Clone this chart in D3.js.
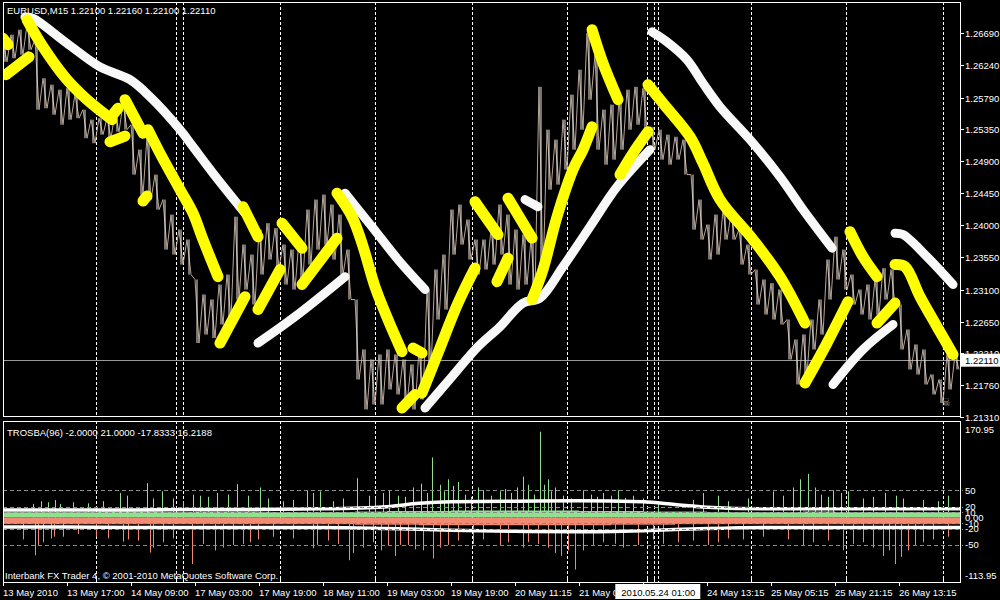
<!DOCTYPE html>
<html><head><meta charset="utf-8">
<script src="https://cdn.jsdelivr.net/npm/d3@7"></script>
<style>
html,body{margin:0;padding:0;background:#000;}
svg{display:block;}
text{font-family:"Liberation Sans",Arial,sans-serif;font-size:9.5px;fill:#fff;}
</style></head><body>
<svg id="c" width="1000" height="600"></svg>
<script>
// ---------- DATA ----------
const symbolTitle = "EURUSD,M15  1.22100 1.22160 1.22100 1.22110";
const indicatorTitle = "TROSBA(96) -2.0000 21.0000 -17.8333 16.2188";
const copyright = "Interbank FX Trader 4, \u00A9 2001-2010 MetaQuotes Software Corp.";
const priceTicks = [1.26690,1.26240,1.25790,1.25350,1.24900,1.24450,1.24000,1.23550,1.23100,1.22650,1.22210,1.21760,1.21310];
const lastPrice = 1.22110;
const oscTickValues = [170.95,50,20,10,0,-10,-20,-50,-113.95];
const oscTickLabels = ["170.95","50","20","10","0.00","-10","-20","-50","-113.95"];
const oscLevels = [50,20,10,-10,-20,-50];
const timeLabels = ["13 May 2010","13 May 17:00","14 May 09:00","17 May 03:00","17 May 19:00","18 May 11:00","19 May 03:00","19 May 19:00","20 May 11:15","21 May 03:15","21 May 19:15","24 May 13:15","25 May 05:15","25 May 21:15","26 May 13:15"];
const timeLabelBars = [0,64,128,192,256,320,384,448,512,576,640,704,768,832,896];
const separatorBars = [92.7,172.7,180.3,276.7,372.3,468.7,563.7,643.7,651.3,747.7,843.3,939.7];
const crosshairBar = 655.3;
const crosshairLabel = "2010.05.24 01:00";
// 2-hour samples (8 bars each) of the M15 price: highs and lows
const sampleHigh = [1.2657,1.2667,1.2674,1.2681,1.2660,1.2606,1.2597,1.2590,1.2592,1.2583,
1.2562,1.2548,1.2550,1.2550,1.2559,1.2571,1.2541,1.2506,1.2524,1.2471,
1.2436,1.2415,1.2394,1.2380,1.2324,1.2303,1.2296,1.2317,1.2331,1.2412,
1.2373,1.2359,1.2394,1.2403,1.2396,1.2373,1.2366,1.2380,1.2422,1.2436,
1.2443,1.2429,1.2415,1.2366,1.2296,1.2226,1.2212,1.2219,1.2226,1.2219,
1.2212,1.2205,1.2226,1.2310,1.2338,1.2359,1.2422,1.2429,1.2408,1.2380,
1.2380,1.2394,1.2429,1.2415,1.2394,1.2387,1.2380,1.2594,1.2534,1.2520,
1.2548,1.2583,1.2618,1.2669,1.2639,1.2562,1.2569,1.2576,1.2590,1.2594,
1.2592,1.2538,1.2534,1.2527,1.2524,1.2520,1.2471,1.2436,1.2401,1.2415,
1.2422,1.2415,1.2394,1.2373,1.2338,1.2324,1.2319,1.2310,1.2268,1.2240,
1.2247,1.2268,1.2296,1.2352,1.2384,1.2366,1.2331,1.2310,1.2317,1.2324,
1.2340,1.2338,1.2289,1.2254,1.2233,1.2226,1.2191,1.2184,1.2219,1.2219];
const sampleLow = [1.2629,1.2634,1.2639,1.2646,1.2562,1.2564,1.2555,1.2541,1.2548,1.2550,
1.2522,1.2515,1.2527,1.2522,1.2531,1.2534,1.2471,1.2443,1.2436,1.2422,
1.2366,1.2359,1.2345,1.2331,1.2235,1.2247,1.2242,1.2261,1.2268,1.2296,
1.2310,1.2289,1.2331,1.2352,1.2340,1.2317,1.2310,1.2324,1.2345,1.2366,
1.2373,1.2352,1.2331,1.2296,1.2184,1.2142,1.2149,1.2149,1.2170,1.2163,
1.2149,1.2142,1.2156,1.2198,1.2268,1.2282,1.2359,1.2373,1.2352,1.2331,
1.2338,1.2345,1.2359,1.2317,1.2310,1.2317,1.2303,1.2324,1.2450,1.2457,
1.2478,1.2506,1.2534,1.2576,1.2506,1.2485,1.2492,1.2506,1.2534,1.2541,
1.2534,1.2506,1.2492,1.2485,1.2492,1.2471,1.2394,1.2380,1.2352,1.2359,
1.2380,1.2380,1.2345,1.2331,1.2289,1.2275,1.2268,1.2261,1.2212,1.2177,
1.2191,1.2226,1.2247,1.2296,1.2324,1.2310,1.2289,1.2275,1.2268,1.2275,
1.2296,1.2289,1.2226,1.2198,1.2191,1.2177,1.2163,1.2151,1.2170,1.2198];
// hand-drawn highlighter strokes: [bar, price]
const yellowStrokes = [
 [[0,1.2662],[5,1.2653]],
 [[3,1.2611],[26,1.2636]],
 [[24,1.2688],[40,1.2650],[64,1.2604],[84,1.2576],[109,1.2548]],
 [[111,1.2557],[115,1.2564]],
 [[107,1.2517],[122,1.2525]],
 [[122,1.2576],[140,1.2529]],
 [[145,1.2534],[157,1.2501],[177,1.2450],[190,1.2417],[200,1.2380],[215,1.2328]],
 [[140,1.2434],[144,1.2441]],
 [[217,1.2235],[242,1.2300]],
 [[240,1.2426],[255,1.2384]],
 [[255,1.2282],[277,1.2338]],
 [[279,1.2403],[299,1.2368]],
 [[299,1.2317],[334,1.2382]],
 [[334,1.2445],[349,1.2412],[359,1.2375],[372,1.2314],[385,1.2268],[399,1.2223]],
 [[410,1.2228],[419,1.2221]],
 [[399,1.2144],[412,1.2163]],
 [[419,1.2165],[435,1.2221],[455,1.2291],[472,1.2340]],
 [[472,1.2433],[495,1.2387]],
 [[494,1.2321],[505,1.2354]],
 [[505,1.2438],[529,1.2382]],
 [[529,1.2296],[540,1.2338],[554,1.2412],[570,1.2478],[580,1.2506],[589,1.2538]],
 [[589,1.2674],[600,1.2627],[615,1.2576]],
 [[617,1.2471],[630,1.2501],[645,1.2531]],
 [[645,1.2597],[660,1.2571],[687,1.2524],[700,1.2487],[717,1.2436],[750,1.2380],[777,1.2328],[802,1.2263]],
 [[802,1.2179],[824,1.2235],[845,1.2293]],
 [[847,1.2391],[860,1.2356],[874,1.2328]],
 [[874,1.2263],[892,1.2291]],
 [[892,1.2345],[902,1.2342],[917,1.2300],[934,1.2258],[950,1.2219]]
];
const whiteStrokes = [
 [[22,1.2692],[30,1.2690],[64,1.2655],[97,1.2622],[127,1.2604],[147,1.2580],[177,1.2534],[190,1.2510],[210,1.2473],[242,1.2417]],
 [[255,1.2235],[292,1.2272],[342,1.2328]],
 [[342,1.2445],[369,1.2398],[395,1.2352],[422,1.2310]],
 [[422,1.2144],[449,1.2188],[475,1.2230],[497,1.2258],[520,1.2291],[537,1.2298],[560,1.2342],[587,1.2398],[614,1.2454],[647,1.2506]],
 [[522,1.2436],[535,1.2426]],
 [[649,1.2671],[664,1.2657],[684,1.2632],[700,1.2599],[717,1.2566],[747,1.2520],[777,1.2468],[800,1.2422],[829,1.2368]],
 [[830,1.2177],[860,1.2226],[890,1.2261]],
 [[892,1.2389],[900,1.2387],[924,1.2356],[950,1.2317]]
];
// oscillator (TROSBA) — band levels per 32-bar block, spikes [bar, value], signal lines [bar, value]
const greenBand = [10,10,10,11,11,10,11,11,10,10,10,11,12,12,13,13,13,13,12,12,11,11,10,10,10,11,10,10,10,10];
const salmonBand = [-12,-12,-12,-12,-12,-12,-12,-12,-12,-12,-12,-13,-13,-14,-14,-14,-14,-14,-14,-13,-13,-12,-12,-12,-12,-12,-12,-12,-12,-12];
const greenSpikes = [[30,25],[38,30],[45,28],[52,32],[57,25],[70,28],[85,26],[100,30],[117,45],[124,40],[144,63],[150,35],[159,48],[170,35],[180,30],[190,42],[197,40],[205,38],[214,45],[225,42],[234,61],[245,40],[257,55],[265,35],[280,30],[290,32],[304,50],[310,45],[317,48],[330,30],[340,35],[354,72],[366,40],[372,35],[380,45],[386,50],[395,40],[402,38],[410,55],[418,62],[424,45],[429,110],[437,60],[441,48],[445,70],[450,58],[455,65],[462,42],[468,38],[475,55],[480,50],[488,40],[497,48],[502,52],[508,45],[514,55],[520,75],[525,60],[531,42],[537,157],[541,60],[545,70],[548,48],[552,55],[560,40],[568,35],[580,50],[588,42],[594,38],[600,45],[608,40],[615,50],[622,36],[630,40],[640,35],[655,30],[690,32],[700,45],[715,40],[725,30],[745,35],[770,48],[780,40],[790,55],[797,70],[805,80],[812,55],[818,42],[825,38],[830,50],[838,45],[845,48],[860,35],[870,38],[882,45],[893,40],[900,35],[920,32],[935,30],[945,40]];
const salmonSpikes = [[20,-40],[32,-69],[35,-50],[40,-45],[48,-38],[51,-35],[60,-35],[75,-30],[93,-35],[105,-38],[120,-44],[125,-40],[135,-42],[147,-64],[150,-55],[160,-45],[170,-38],[189,-85],[200,-48],[212,-60],[220,-55],[230,-50],[240,-48],[247,-45],[255,-40],[270,-35],[290,-38],[310,-56],[314,-50],[325,-42],[335,-48],[346,-78],[350,-65],[360,-55],[370,-45],[378,-60],[385,-52],[392,-70],[397,-50],[405,-50],[412,-58],[420,-60],[430,-75],[437,-55],[445,-50],[455,-42],[470,-48],[480,-40],[497,-50],[505,-45],[520,-55],[525,-45],[535,-48],[545,-55],[552,-65],[558,-70],[565,-60],[572,-95],[580,-60],[590,-50],[600,-45],[612,-48],[620,-55],[635,-50],[650,-40],[660,-48],[675,-45],[690,-42],[705,-50],[715,-45],[725,-38],[740,-40],[760,-35],[785,-40],[800,-52],[810,-45],[825,-42],[840,-60],[850,-48],[860,-45],[870,-55],[880,-70],[886,-60],[892,-85],[898,-72],[905,-60],[912,-50],[920,-45],[930,-40],[945,-35]];
const upperLine = [[0,14],[64,14],[128,14],[192,15],[256,15],[320,16],[384,20],[416,26],[448,29],[512,30],[576,31],[640,29],[672,24],[704,19],[768,16],[832,16],[896,16],[957,16]];
const lowerLine = [[0,-17],[64,-17],[128,-18],[192,-18],[256,-18],[320,-18],[384,-20],[448,-23],[512,-25],[576,-26],[640,-24],[704,-20],[768,-18],[832,-18],[896,-18],[957,-18]];

// ---------- LAYOUT ----------
const L = 3, R = 960;
const topY0 = 2, topY1 = 416, botY0 = 421, botY1 = 582;
const svg = d3.select("#c");
svg.append("rect").attr("width",1000).attr("height",600).attr("fill","#000");

const x = d3.scaleLinear().domain([0,957]).range([L,R]);
const yP = d3.scaleLinear().domain([1.21310,1.26690]).range([417.3,33.3]);
const yO = d3.scaleLinear().domain([-113.95,170.95]).range([579.9,424.1]);

const defs = svg.append("defs");
defs.append("clipPath").attr("id","clipTop").append("rect").attr("x",L).attr("y",topY0).attr("width",R-L).attr("height",topY1-topY0);
defs.append("clipPath").attr("id","clipBot").append("rect").attr("x",L).attr("y",botY0).attr("width",R-L).attr("height",botY1-botY0);

// ---------- TOP PANEL ----------
const gTop = svg.append("g").attr("clip-path","url(#clipTop)");
separatorBars.concat([crosshairBar]).forEach(b=>{
  gTop.append("line").attr("x1",Math.round(x(b))+0.5).attr("x2",Math.round(x(b))+0.5).attr("y1",topY0).attr("y2",topY1)
    .attr("stroke","#fff").attr("stroke-width",1).attr("stroke-dasharray","3,2");
});
gTop.append("line").attr("x1",L).attr("x2",R).attr("y1",Math.round(yP(lastPrice))+0.5).attr("y2",Math.round(yP(lastPrice))+0.5)
  .attr("stroke","#9a9a9a").attr("stroke-width",1);

// price wisps
const pts = [];
sampleHigh.forEach((h,i)=>{ pts.push([i*8, h]); pts.push([i*8+4, sampleLow[i]]); });
const lineP = d3.line().x(d=>x(d[0])).y(d=>yP(d[1]));
gTop.append("path").attr("d",lineP(pts)).attr("fill","none").attr("stroke","#cdb7a8").attr("stroke-width",0.9);
gTop.selectAll("line.bar").data(sampleHigh).join("line").attr("class","bar")
  .attr("x1",(d,i)=>x(i*8+2)).attr("x2",(d,i)=>x(i*8+2))
  .attr("y1",d=>yP(d)).attr("y2",(d,i)=>yP(sampleLow[i]))
  .attr("stroke","#efe6df").attr("stroke-width",1);

// highlighter strokes
const lineA = d3.line().x(d=>x(d[0])).y(d=>yP(d[1])).curve(d3.curveCatmullRom);
gTop.selectAll("path.w").data(whiteStrokes).join("path").attr("class","w")
  .attr("d",lineA).attr("fill","none").attr("stroke","#f8f8f8").attr("stroke-width",9)
  .attr("stroke-linecap","round").attr("stroke-linejoin","round");
gTop.selectAll("path.y").data(yellowStrokes).join("path").attr("class","y")
  .attr("d",lineA).attr("fill","none").attr("stroke","#ffff00").attr("stroke-width",11)
  .attr("stroke-linecap","round").attr("stroke-linejoin","round");

svg.append("text").attr("x",946).attr("y",406).attr("text-anchor","middle").style("font-family","DejaVu Sans").style("font-size","11px").style("fill","#9a9a9a").text("\u2620");

svg.append("rect").attr("x",L+0.5).attr("y",topY0+0.5).attr("width",R-L).attr("height",topY1-topY0).attr("fill","none").attr("stroke","#fff");
svg.append("text").attr("x",7).attr("y",14).text(symbolTitle);

// price axis
priceTicks.forEach(t=>{
  const yy = Math.round(yP(t))+0.5;
  svg.append("line").attr("x1",R).attr("x2",R+4).attr("y1",yy).attr("y2",yy).attr("stroke","#fff");
  svg.append("text").attr("x",965).attr("y",yy+3.5).text(t.toFixed(5));
});
{
  const yy = yP(lastPrice);
  svg.append("rect").attr("x",961).attr("y",yy-6.5).attr("width",39).attr("height",13).attr("fill","#fff");
  svg.append("text").attr("x",965).attr("y",yy+3.5).style("fill","#000").text(lastPrice.toFixed(5));
}

// ---------- BOTTOM PANEL ----------
const gBot = svg.append("g").attr("clip-path","url(#clipBot)");
separatorBars.concat([crosshairBar]).forEach(b=>{
  gBot.append("line").attr("x1",Math.round(x(b))+0.5).attr("x2",Math.round(x(b))+0.5).attr("y1",botY0).attr("y2",botY1)
    .attr("stroke","#fff").attr("stroke-width",1).attr("stroke-dasharray","3,2");
});
oscLevels.forEach(v=>{
  svg.append("line").attr("x1",L).attr("x2",R+3).attr("y1",Math.round(yO(v))+0.5).attr("y2",Math.round(yO(v))+0.5)
    .attr("stroke","#8a8a8a").attr("stroke-dasharray","4,3");
});
gBot.selectAll("rect.gb").data(greenBand).join("rect").attr("class","gb")
  .attr("x",(d,i)=>x(i*32)).attr("width",(d,i)=>x(i*32+32)-x(i*32))
  .attr("y",d=>yO(d)).attr("height",d=>yO(0)-yO(d)).attr("fill","#8fe08f");
gBot.selectAll("rect.sb").data(salmonBand).join("rect").attr("class","sb")
  .attr("x",(d,i)=>x(i*32)).attr("width",(d,i)=>x(i*32+32)-x(i*32))
  .attr("y",yO(0)).attr("height",d=>yO(d)-yO(0)).attr("fill","#f08a72");
gBot.selectAll("line.gs").data(greenSpikes).join("line").attr("class","gs")
  .attr("x1",d=>x(d[0])+0.5).attr("x2",d=>x(d[0])+0.5).attr("y1",yO(0)).attr("y2",d=>yO(d[1]))
  .attr("stroke","#8fe08f").attr("stroke-width",1);
gBot.selectAll("line.ss").data(salmonSpikes).join("line").attr("class","ss")
  .attr("x1",d=>x(d[0])+0.5).attr("x2",d=>x(d[0])+0.5).attr("y1",yO(0)).attr("y2",d=>yO(d[1]))
  .attr("stroke","#f08a72").attr("stroke-width",1);
const lineO = d3.line().x(d=>x(d[0])).y(d=>yO(d[1])).curve(d3.curveMonotoneX);
[upperLine, lowerLine].forEach(l=>{
  gBot.append("path").attr("d",lineO(l)).attr("fill","none").attr("stroke","#fff").attr("stroke-width",3.5);
});

svg.append("rect").attr("x",L+0.5).attr("y",botY0+0.5).attr("width",R-L).attr("height",botY1-botY0).attr("fill","none").attr("stroke","#fff");
svg.append("text").attr("x",7).attr("y",436).text(indicatorTitle);
svg.append("text").attr("x",5).attr("y",579).text(copyright);

oscTickValues.forEach((v,i)=>{
  let yy = yO(v)+3.5;
  if (i===0) yy = yO(v)+9;
  if (i===oscTickValues.length-1) yy = yO(v)-0.5;
  svg.append("text").attr("x",965).attr("y",yy).text(oscTickLabels[i]);
});

// ---------- TIME AXIS ----------
const cx = x(crosshairBar), boxL = cx-43, boxR = cx+42;
defs.append("clipPath").attr("id","clipAxisLbl").append("rect").attr("x",0).attr("y",582).attr("width",boxL).attr("height",18);
timeLabelBars.forEach((b,i)=>{
  const xx = Math.round(x(b))+0.5;
  svg.append("line").attr("x1",xx).attr("x2",xx).attr("y1",botY1).attr("y2",botY1+4).attr("stroke","#fff");
  const sx = x(b);
  if (sx >= boxL && sx < boxR) return; // fully hidden behind the crosshair date box
  const t = svg.append("text").attr("x",sx).attr("y",596).text(timeLabels[i]);
  if (sx < boxL && sx + 58 > boxL) t.attr("clip-path","url(#clipAxisLbl)");
});
separatorBars.forEach(b=>{
  const xx = Math.round(x(b))+0.5;
  svg.append("line").attr("x1",xx).attr("x2",xx).attr("y1",botY1-4).attr("y2",botY1).attr("stroke","#fff");
});
svg.append("rect").attr("x",boxL).attr("y",584).attr("width",85).attr("height",15).attr("fill","#fff");
svg.append("text").attr("x",cx).attr("y",596).attr("text-anchor","middle").style("fill","#000").text(crosshairLabel);
</script>
</body></html>
